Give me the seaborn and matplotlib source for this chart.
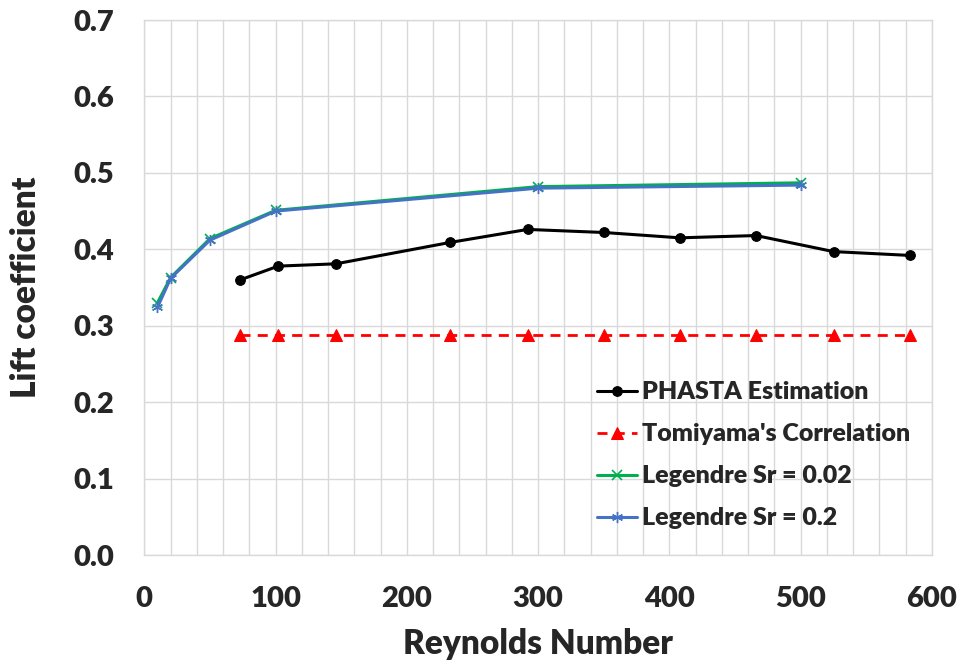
import pandas as pd
import matplotlib.pyplot as plt
import seaborn as sns
from matplotlib.ticker import MultipleLocator

# values
re_phasta = [73, 102, 146, 233, 292, 350, 408, 466, 525, 583]
cl_phasta = [0.360, 0.378, 0.381, 0.409, 0.426, 0.422, 0.415, 0.418, 0.397, 0.392]
cl_tomiyama = [0.288] * len(re_phasta)

re_legendre = [10, 20, 50, 100, 300, 500]
cl_sr002 = [0.330, 0.363, 0.414, 0.451, 0.482, 0.487]
cl_sr02 = [0.324, 0.362, 0.412, 0.450, 0.480, 0.484]

sns.set_style("white")
plt.rcParams['font.family'] = ['Lato', 'DejaVu Sans']
plt.rcParams['font.weight'] = 'heavy'

fig = plt.figure(figsize=(9.59, 6.65), dpi=100)
ax = fig.add_axes([0.1505, 0.1654, 0.8213, 0.8045])

grid_c = '#d9d9d9'
ax.xaxis.set_major_locator(MultipleLocator(100))
ax.xaxis.set_minor_locator(MultipleLocator(20))
ax.yaxis.set_major_locator(MultipleLocator(0.1))
ax.grid(True, which='both', axis='x', color=grid_c, lw=1.0, zorder=0)
ax.grid(True, which='major', axis='y', color=grid_c, lw=1.0, zorder=0)

sns.lineplot(x=re_phasta, y=cl_phasta, ax=ax, color='black', lw=2.2,
             marker='o', markersize=7, markeredgecolor='black',
             label='PHASTA Estimation')
sns.lineplot(x=re_phasta, y=cl_tomiyama, ax=ax, color='#ff0000', lw=2.0,
             dashes=(3.6, 2.6), marker='^', markersize=9, markeredgecolor='#ff0000',
             label="Tomiyama's Correlation")
sns.lineplot(x=re_legendre, y=cl_sr002, ax=ax, color='#00b050', lw=2.2,
             marker='x', markersize=7, markeredgewidth=1.2, markeredgecolor='#00b050',
             label='Legendre Sr = 0.02')
sns.lineplot(x=re_legendre, y=cl_sr02, ax=ax, color='#4472c4', lw=2.2,
             marker=(6, 2, 0), markersize=8, markeredgewidth=1.0, markeredgecolor='#4472c4',
             label='Legendre Sr = 0.2')

ax.set_xlim(0, 600)
ax.set_ylim(0, 0.7)
ax.yaxis.set_major_formatter(plt.FuncFormatter(lambda v, p: f'{v:.1f}'))
ax.tick_params(which='both', length=0)
ax.tick_params(axis='x', labelsize=21, pad=22)
ax.tick_params(axis='y', labelsize=21, pad=22)
for lab in ax.get_xticklabels() + ax.get_yticklabels():
    lab.set_fontweight('heavy')
for s in ax.spines.values():
    s.set_color(grid_c)
    s.set_linewidth(1.0)

ax.set_xlabel('Reynolds Number', fontsize=24, fontweight='heavy', labelpad=12)
ax.set_ylabel('Lift coefficient', fontsize=24, fontweight='heavy', labelpad=22)

leg = ax.legend(loc='lower left', bbox_to_anchor=(0.546, 0.006), frameon=False,
                handlelength=1.6, handletextpad=0.2, labelspacing=0.8,
                prop={'weight': 'heavy', 'size': 18})

plt.savefig('out.png', dpi=100)
